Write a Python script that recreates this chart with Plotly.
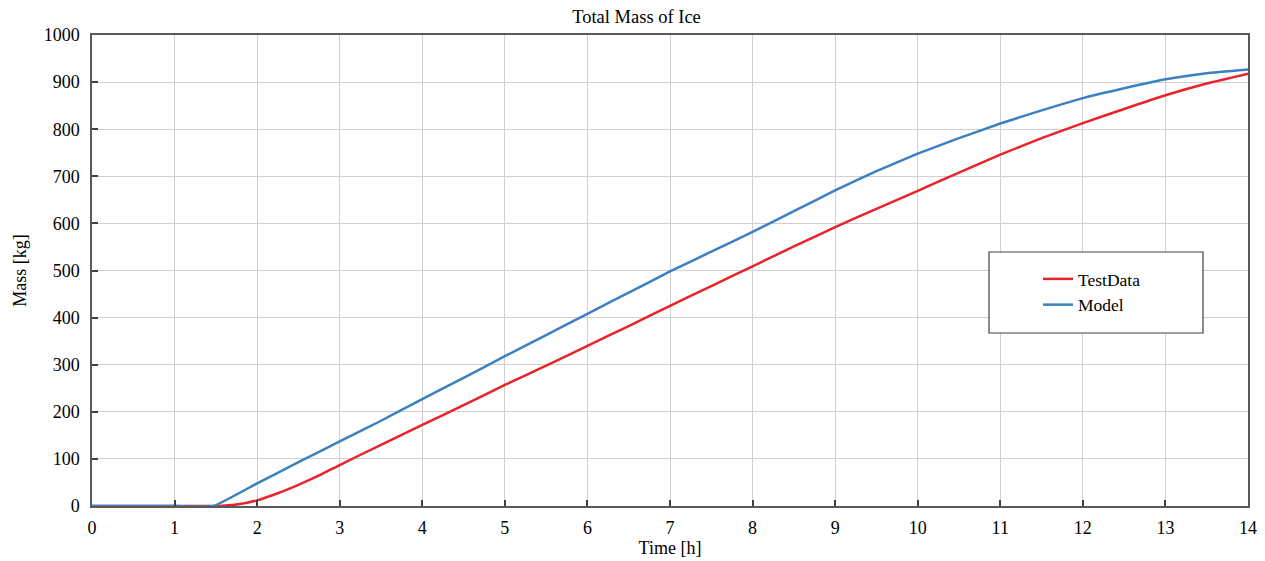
import plotly.graph_objects as go

# Test data (red)
test_time = [0, 1.0, 1.5, 1.75, 2.0, 2.25, 2.5, 2.75, 3.0, 3.5, 4.0, 4.5, 5.0, 5.5, 6.0, 6.5,
             7.0, 7.5, 8.0, 8.5, 9.0, 9.5, 10.0, 10.5, 11.0, 11.5, 12.0, 12.5, 13.0, 13.5, 14.0]
test_mass = [0, 0, 0, 3, 12, 27, 45, 65, 87, 130, 172, 214, 257, 298, 340, 382,
             425, 467, 509, 551, 592, 631, 669, 708, 746, 781, 813, 843, 872, 897, 918]

# Model (blue)
model_time = [0, 1.0, 1.47, 2.0, 2.5, 3.0, 3.5, 4.0, 4.5, 5.0, 5.5, 6.0, 6.5, 7.0, 7.5, 8.0,
              8.5, 9.0, 9.5, 10.0, 10.5, 11.0, 11.5, 12.0, 12.5, 13.0, 13.5, 14.0]
model_mass = [0, 0, 0, 48, 93, 137, 181, 227, 272, 318, 363, 408, 453, 498, 540, 582,
              626, 670, 711, 748, 781, 812, 840, 866, 887, 906, 919, 927]

x_ticks = list(range(0, 15))
y_ticks = list(range(0, 1001, 100))

FONT = "Liberation Serif, Times New Roman, serif"

fig = go.Figure()
fig.add_trace(go.Scatter(x=test_time, y=test_mass, mode="lines", name="TestData",
                         line=dict(color="#e8232b", width=2.5, shape="spline", smoothing=0.5)))
fig.add_trace(go.Scatter(x=model_time, y=model_mass, mode="lines", name="Model",
                         line=dict(color="#3b80c0", width=2.5, shape="spline", smoothing=0.35)))

axis_common = dict(showline=True, linecolor="#595959", linewidth=1.5, mirror=True,
                   ticks="inside", ticklen=6, tickcolor="#404040", tickwidth=1.5,
                   showgrid=True, gridcolor="#d0d0d0", gridwidth=1, zeroline=False,
                   automargin=False,
                   tickfont=dict(family=FONT, size=18, color="black"))

fig.update_xaxes(range=[0, 14], tickvals=x_ticks, ticklabelstandoff=5,
                 title=dict(text="Time [h]", font=dict(family=FONT, size=18, color="black"), standoff=4),
                 **axis_common)
fig.update_yaxes(range=[0, 1000], tickvals=y_ticks, ticklabelstandoff=7,
                 title=dict(text="Mass [kg]", font=dict(family=FONT, size=18, color="black"), standoff=12),
                 **axis_common)

fig.add_shape(type="rect", xref="paper", yref="paper",
              x0=(989 - 92) / 1156, x1=(1203 - 92) / 1156,
              y0=(506 - 333) / 471, y1=(506 - 252) / 471,
              line=dict(color="#404040", width=1.2), fillcolor="white", layer="above")

fig.update_layout(
    width=1257, height=553,
    margin=dict(l=84, r=17, t=27, b=55),
    paper_bgcolor="white", plot_bgcolor="white",
    title=dict(text="Total Mass of Ice", x=0.5, xanchor="center", y=1 - 9 / 553, yanchor="middle",
               font=dict(family=FONT, size=18.5, color="black")),
    legend=dict(x=(1038 - 92) / 1156, y=(506 - 261) / 471, xanchor="left", yanchor="top",
                bgcolor="rgba(0,0,0,0)", borderwidth=0,
                font=dict(family=FONT, size=17.5, color="black"), tracegroupgap=0),
    showlegend=True,
)

fig.write_html("out.html")
